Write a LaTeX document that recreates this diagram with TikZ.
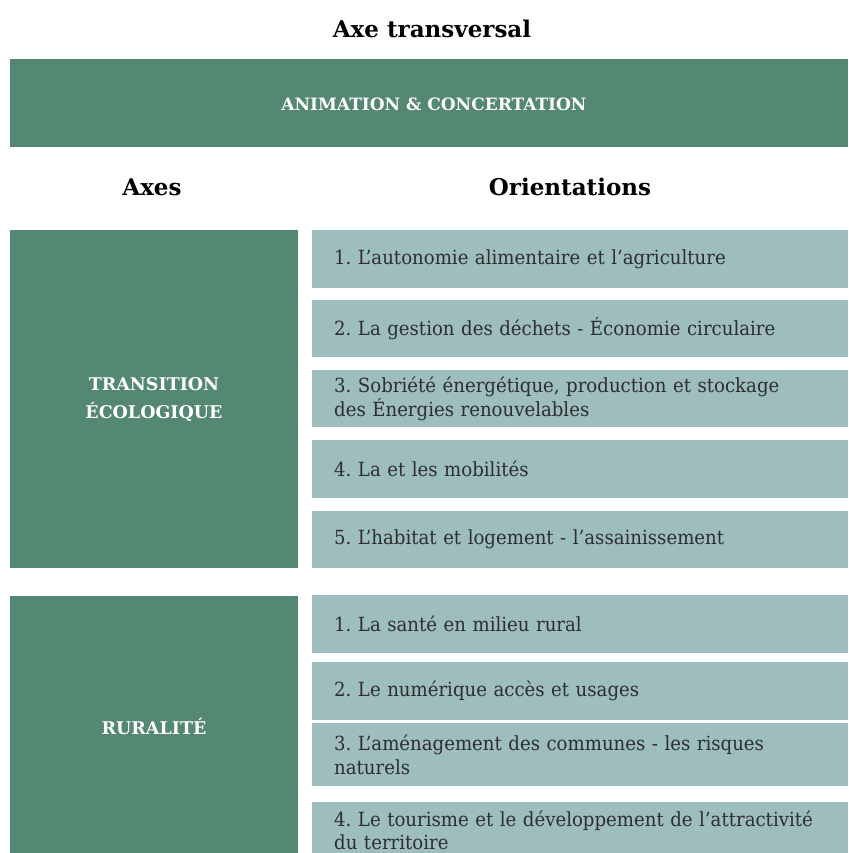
\documentclass[tikz,border=0pt]{standalone}
\usepackage{fontspec}
\setmainfont{DejaVu Serif}
\newfontfamily\bodyfont[FakeStretch=0.93]{DejaVu Serif}
\newfontfamily\headfont{DejaVu Serif}
\definecolor{axegreen}{HTML}{558872}
\definecolor{orientblue}{HTML}{9DBDBF}
\definecolor{bodytext}{HTML}{2E2E2E}
\begin{document}
\frenchspacing
\begin{tikzpicture}[x=1pt,y=-1pt,
  axebox/.style={fill=axegreen, draw=none, anchor=north west, inner sep=0pt},
  orbox/.style={fill=orientblue, draw=none, anchor=north west, minimum width=536pt,
    text width=492pt, inner xsep=22pt, inner ysep=0pt, align=left,
    font=\bodyfont\fontsize{19.5}{24}\selectfont, text=bodytext},
  ortext/.style={anchor=west, text width=492pt, inner xsep=22pt, inner ysep=0pt, align=left,
    font=\bodyfont\fontsize{19.5}{23}\selectfont, text=bodytext},
  axetext/.style={text=white, align=center, font=\headfont\bfseries\fontsize{17.5}{28}\selectfont},
  headtext/.style={text=black, font=\headfont\bfseries\fontsize{23}{27}\selectfont}
]
\useasboundingbox (0,0) rectangle (848,853);
\clip (0,0) rectangle (848,853);
\fill[white] (0,0) rectangle (848,853);

\node[headtext] (title) at (432,29) {Axe transversal};
\node[axebox, minimum width=838pt, minimum height=88pt] (banner) at (10,59) {};
\node[axetext, font=\headfont\bfseries\fontsize{17}{20}\selectfont] (bannertxt) at (434,104) {ANIMATION \& CONCERTATION};

\node[headtext] (axes) at (152,187) {Axes};
\node[headtext] (orient) at (570,187) {Orientations};

% Transition ecologique
\node[axebox, minimum width=288pt, minimum height=338pt] (ax1) at (10,230) {};
\node[axetext] (ax1t) at (154,400) {TRANSITION\\ÉCOLOGIQUE};

\node[orbox, minimum height=58pt] (o11) at (312,230) {1. L’autonomie alimentaire et l’agriculture};
\node[orbox, minimum height=57pt] (o12) at (312,300) {2. La gestion des déchets - Économie circulaire};
\node[orbox, minimum height=57pt] (o13) at (312,370) {3. Sobriété énergétique, production et stockage\\des Énergies renouvelables};
\node[orbox, minimum height=58pt] (o14) at (312,440) {4. La et les mobilités};
\node[orbox, minimum height=57pt] (o15) at (312,511) {5. L’habitat et logement - l’assainissement};

% Ruralite
\node[axebox, minimum width=288pt, minimum height=257pt] (ax2) at (10,596) {};
\node[axetext] (ax2t) at (154,727) {RURALITÉ};

\node[orbox, minimum height=58pt] (o21) at (312,595) {1. La santé en milieu rural};
\node[orbox, minimum height=58pt] (o22) at (312,662) {2. Le numérique accès et usages};
\node[orbox, minimum height=63pt] (o23) at (312,723) {3. L’aménagement des communes - les risques\\naturels};
\node[orbox, minimum height=51pt] (o24) at (312,802) {};
\node[ortext] (o24t) at (312,830) {4. Le tourisme et le développement de l’attractivité\\du territoire};
\end{tikzpicture}
\end{document}
